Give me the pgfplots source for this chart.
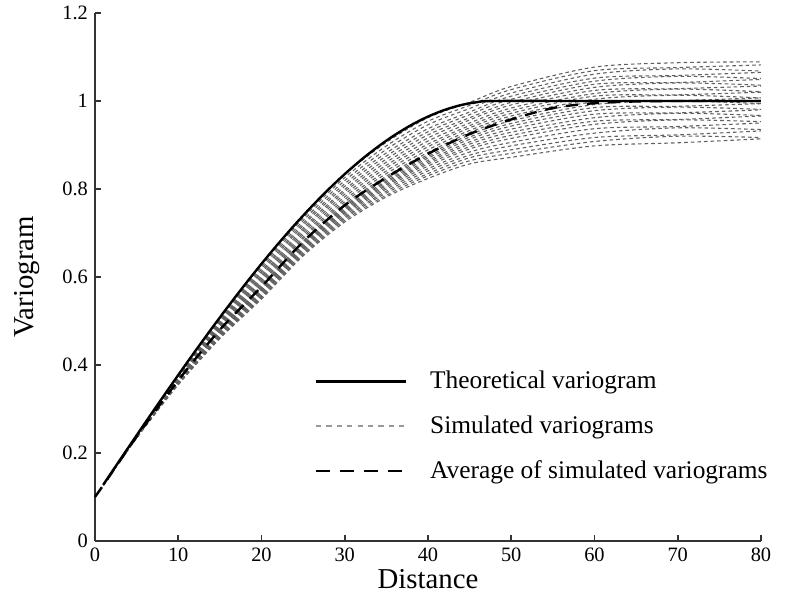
\documentclass[border=0pt]{standalone}
\usepackage{pgfplots}
\pgfplotsset{compat=1.18}
\usepackage{fontspec}
\setmainfont{Liberation Serif}
\begin{document}
\begin{tikzpicture}
\begin{axis}[
  at={(0,0)}, anchor=south west,
  scale only axis, width=333pt, height=264pt,
  xmin=0, xmax=80, ymin=0, ymax=1.2,
  axis lines=left, axis line style={-, line width=0.8pt, black!80},
  tick align=inside, major tick length=3pt,
  tick style={line width=0.8pt, black!80},
  xtick={0,10,...,80}, ytick={0,0.2,...,1.2},
  /pgf/number format/assume math mode=true,
  ticklabel style={font=\fontsize{10.2}{12}\selectfont},
  xlabel={Distance}, ylabel={Variogram},
  label style={font=\fontsize{14.4}{16}\selectfont},
  xlabel style={at={(axis description cs:0.5,-0.072)}, anchor=center},
  ylabel style={at={(axis description cs:-0.102,0.5)}, anchor=center},
  clip=false,
  sim/.style={black!62, line width=0.55pt, dash pattern=on 1.8pt off 1.5pt, smooth, forget plot},
  legend style={draw=none, fill=none, at={(axis cs:26.4,0.386)}, anchor=north west,
    inner sep=0pt, outer sep=0pt, row sep=12pt,
    nodes={inner sep=0pt, anchor=west},
    font=\fontsize{12.7}{15}\selectfont,
    /tikz/every odd column/.append style={column sep=11.5pt}},
  legend cell align=left,
  legend image code/.code={\draw[#1] (0pt,0pt) -- (45pt,0pt);},
]
% simulated variograms (lower group)
\addplot[sim] coordinates {(1,.127) (5,.234) (10,.355) (15,.460) (20,.550) (25,.648) (30,.725) (35,.782) (40,.824) (45,.857) (50,.872) (60,.898) (70,.905) (80,.914)};
\addplot[sim] coordinates {(1,.127) (5,.234) (10,.356) (15,.462) (20,.553) (25,.651) (30,.729) (35,.786) (40,.830) (45,.864) (50,.881) (60,.908) (70,.920) (80,.917)};
\addplot[sim] coordinates {(1,.127) (5,.235) (10,.357) (15,.464) (20,.556) (25,.654) (30,.733) (35,.791) (40,.835) (45,.871) (50,.889) (60,.917) (70,.923) (80,.932)};
\addplot[sim] coordinates {(1,.127) (5,.235) (10,.358) (15,.466) (20,.558) (25,.658) (30,.736) (35,.795) (40,.841) (45,.877) (50,.898) (60,.927) (70,.939) (80,.935)};
\addplot[sim] coordinates {(1,.127) (5,.235) (10,.359) (15,.468) (20,.561) (25,.661) (30,.740) (35,.800) (40,.846) (45,.884) (50,.906) (60,.937) (70,.942) (80,.950)};
\addplot[sim] coordinates {(1,.127) (5,.236) (10,.360) (15,.470) (20,.564) (25,.664) (30,.744) (35,.804) (40,.852) (45,.891) (50,.915) (60,.947) (70,.957) (80,.953)};
\addplot[sim] coordinates {(1,.127) (5,.236) (10,.361) (15,.472) (20,.566) (25,.667) (30,.747) (35,.808) (40,.857) (45,.896) (50,.922) (60,.954) (70,.958) (80,.966)};
\addplot[sim] coordinates {(1,.127) (5,.236) (10,.362) (15,.473) (20,.569) (25,.669) (30,.750) (35,.811) (40,.861) (45,.902) (50,.929) (60,.962) (70,.972) (80,.967)};
\addplot[sim] coordinates {(1,.127) (5,.236) (10,.362) (15,.475) (20,.571) (25,.672) (30,.753) (35,.815) (40,.865) (45,.907) (50,.936) (60,.970) (70,.973) (80,.980)};
\addplot[sim] coordinates {(1,.127) (5,.237) (10,.363) (15,.476) (20,.573) (25,.674) (30,.756) (35,.818) (40,.870) (45,.913) (50,.943) (60,.978) (70,.986) (80,.981)};
\addplot[sim] coordinates {(1,.127) (5,.237) (10,.364) (15,.478) (20,.575) (25,.677) (30,.759) (35,.822) (40,.874) (45,.918) (50,.949) (60,.985) (70,.988) (80,.994)};
\addplot[sim] coordinates {(1,.127) (5,.237) (10,.365) (15,.479) (20,.577) (25,.679) (30,.762) (35,.825) (40,.878) (45,.923) (50,.955) (60,.992) (70,1.000) (80,.994)};
% simulated variograms (upper group)
\addplot[sim] coordinates {(1,.127) (5,.237) (10,.365) (15,.481) (20,.580) (25,.682) (30,.766) (35,.829) (40,.883) (45,.928) (50,.961) (60,.998) (70,1.001) (80,1.007)};
\addplot[sim] coordinates {(1,.127) (5,.237) (10,.366) (15,.483) (20,.584) (25,.687) (30,.771) (35,.835) (40,.889) (45,.933) (50,.966) (60,1.004) (70,1.013) (80,1.007)};
\addplot[sim] coordinates {(1,.127) (5,.238) (10,.367) (15,.485) (20,.588) (25,.691) (30,.776) (35,.841) (40,.896) (45,.939) (50,.972) (60,1.011) (70,1.014) (80,1.020)};
\addplot[sim] coordinates {(1,.127) (5,.238) (10,.368) (15,.487) (20,.592) (25,.696) (30,.782) (35,.848) (40,.902) (45,.944) (50,.978) (60,1.017) (70,1.027) (80,1.021)};
\addplot[sim] coordinates {(1,.127) (5,.238) (10,.369) (15,.489) (20,.596) (25,.701) (30,.788) (35,.854) (40,.909) (45,.950) (50,.984) (60,1.024) (70,1.028) (80,1.034)};
\addplot[sim] coordinates {(1,.127) (5,.238) (10,.369) (15,.491) (20,.600) (25,.706) (30,.794) (35,.861) (40,.916) (45,.957) (50,.991) (60,1.031) (70,1.041) (80,1.036)};
\addplot[sim] coordinates {(1,.127) (5,.239) (10,.370) (15,.493) (20,.604) (25,.711) (30,.799) (35,.868) (40,.923) (45,.962) (50,.997) (60,1.038) (70,1.042) (80,1.049)};
\addplot[sim] coordinates {(1,.127) (5,.239) (10,.371) (15,.495) (20,.609) (25,.717) (30,.806) (35,.875) (40,.930) (45,.969) (50,1.004) (60,1.045) (70,1.056) (80,1.051)};
\addplot[sim] coordinates {(1,.127) (5,.239) (10,.372) (15,.498) (20,.613) (25,.722) (30,.812) (35,.882) (40,.937) (45,.975) (50,1.011) (60,1.052) (70,1.058) (80,1.065)};
\addplot[sim] coordinates {(1,.127) (5,.239) (10,.373) (15,.500) (20,.618) (25,.728) (30,.819) (35,.890) (40,.946) (45,.983) (50,1.018) (60,1.061) (70,1.073) (80,1.068)};
\addplot[sim] coordinates {(1,.127) (5,.240) (10,.374) (15,.503) (20,.623) (25,.734) (30,.826) (35,.898) (40,.954) (45,.990) (50,1.026) (60,1.069) (70,1.076) (80,1.082)};
\addplot[sim] coordinates {(1,.127) (5,.240) (10,.375) (15,.505) (20,.628) (25,.740) (30,.833) (35,.906) (40,.962) (45,.997) (50,1.033) (60,1.077) (70,1.087) (80,1.089)};
% theoretical
\addplot[black, line width=1.2pt, smooth, forget plot] coordinates {
(1,0.12812) (2,0.15622) (4,0.21224) (6,0.26787) (8,0.32292) (10,0.37718)
(12,0.43047) (14,0.48258) (16,0.53333) (18,0.58252) (20,0.62995) (22,0.67542)
(24,0.71875) (26,0.75973) (28,0.79818) (30,0.83389) (32,0.86667) (34,0.89632)
(36,0.92266) (38,0.94548) (40,0.96458) (42,0.97979) (44,0.99089) (46,0.99768)
(48,1.0) (60,1.0) (80,1.0)};
% average
\addplot[black, line width=1.2pt, dash pattern=on 6pt off 4.5pt, smooth, forget plot] coordinates {
(0,0.100) (1,0.127) (5,0.237) (10,0.365) (15,0.480) (20,0.578) (25,0.680) (30,0.763)
(35,0.826) (40,0.880) (45,0.925) (50,0.958) (55,0.984) (60,0.995) (65,0.999) (70,1.000) (80,1.000)};
\addlegendimage{black, line width=1.2pt}
\addlegendentry{Theoretical variogram}
\addlegendimage{gray!80, line width=0.6pt, dash pattern=on 2.6pt off 2.6pt}
\addlegendentry{Simulated variograms}
\addlegendimage{black, line width=1.2pt, dash pattern=on 7pt off 5pt}
\addlegendentry{Average of simulated variograms}
\end{axis}
\pgfresetboundingbox
\path[use as bounding box] (-47.5pt,-34.5pt) rectangle (346.5pt,270.5pt);
\end{tikzpicture}
\end{document}
